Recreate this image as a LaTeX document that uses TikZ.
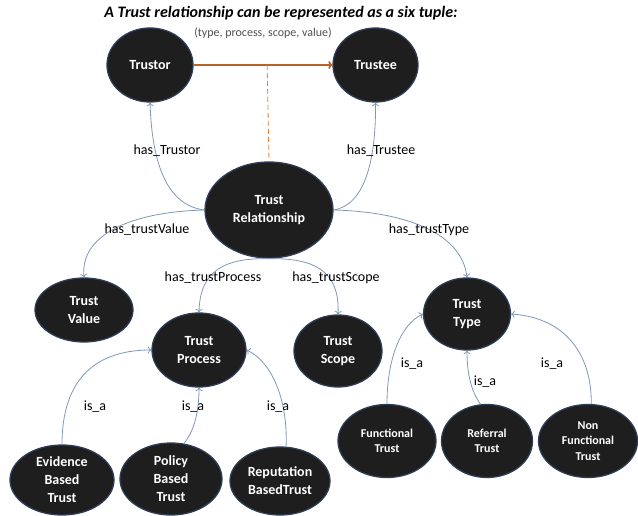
\documentclass[tikz,border=0pt]{standalone}
\usepackage{fontspec}
\setmainfont{Carlito}
\usetikzlibrary{shapes.geometric,arrows.meta,calc}
\definecolor{nodefill}{HTML}{1E1E1E}
\definecolor{nodeline}{HTML}{2E3C58}
\definecolor{edgecol}{HTML}{7F97B6}
\definecolor{brownarrow}{HTML}{B8632A}
\definecolor{dashcol}{HTML}{D9843A}
\definecolor{tuplecol}{HTML}{505050}
\begin{document}
\begin{tikzpicture}[x=1pt,y=-1pt,
 ent/.style={ellipse,fill=nodefill,draw=nodeline,line width=1.3pt,inner sep=0pt,text=white,
   font=\fontsize{14}{18}\selectfont\bfseries,align=center},
 smallent/.style={ent,font=\fontsize{12}{15.5}\selectfont\bfseries},
 rel/.style={draw=edgecol,line width=0.8pt,-{To[length=3.5pt,width=7pt]}},
 lab/.style={font=\fontsize{14}{16}\selectfont,inner sep=0pt}]
\useasboundingbox (0,0) rectangle (638,516);

\node[inner sep=0pt] (title) at (281,13) {\fontsize{16}{18}\selectfont\bfseries\itshape A Trust relationship can be represented as a six tuple:};
\node[inner sep=0pt,text=tuplecol,font=\fontsize{12}{14}\selectfont] (tuple) at (263,33) {(type, process, scope, value)};

\node[ent,minimum width=86pt,minimum height=74pt] (Trustor) at (150,65) {Trustor};
\node[ent,minimum width=85pt,minimum height=74pt] (Trustee) at (375.5,65) {Trustee};
\node[ent,minimum width=128pt,minimum height=96pt] (TR) at (269,210) {Trust\\Relationship};
\node[ent,minimum width=98pt,minimum height=64pt] (TV) at (84,310) {Trust\\Value};
\node[ent,minimum width=94pt,minimum height=74pt] (TP) at (199,350) {Trust\\Process};
\node[ent,minimum width=88pt,minimum height=72pt] (TS) at (338,351) {Trust\\Scope};
\node[ent,minimum width=87pt,minimum height=72pt] (TT) at (467,314) {Trust\\Type};
\node[ent,minimum width=104pt,minimum height=70pt] (EB) at (62,480) {Evidence\\Based\\Trust};
\node[ent,minimum width=102pt,minimum height=72pt] (PB) at (171,479) {Policy\\Based\\Trust};
\node[ent,minimum width=100pt,minimum height=68pt] (RB) at (280,481) {Reputation\\BasedTrust};
\node[smallent,minimum width=98pt,minimum height=73pt] (FT) at (387,441) {Functional\\Trust};
\node[smallent,minimum width=91pt,minimum height=73pt] (RT) at (487,441) {Referral\\Trust};
\node[smallent,minimum width=99pt,minimum height=73pt] (NF) at (588,441) {Non\\Functional\\Trust};

% six-tuple relation
\draw[draw=brownarrow,line width=1.8pt,-{To[length=4pt,width=8pt]}] (Trustor.east) -- (Trustee.west);
\coordinate (mid) at ($(Trustor.east)!0.53!(Trustee.west)$);
\draw[draw=dashcol,line width=0.8pt,dash pattern=on 5pt off 3pt] (mid) -- (TR.north);

% relations
\draw[rel] (TR.west) .. controls (165,205) and (152,160) .. (Trustor.south);
\draw[rel] (TR.east) .. controls (365,205) and (376,160) .. (Trustee.south);
\draw[rel] (TR.west) .. controls (130,212) and (80,235) .. (TV.north);
\draw[rel] (TR.east) .. controls (410,212) and (462,235) .. (TT.north);
\draw[rel] (TR.south) .. controls (225,258) and (200,270) .. (TP.north);
\draw[rel] (TR.south) .. controls (313,258) and (340,270) .. (TS.north);
\draw[rel] (EB.north) .. controls (62,385) and (90,350) .. (TP.west);
\draw[rel] (PB.70) .. controls (195,430) and (199,410) .. (TP.south);
\draw[rel] (RB.80) .. controls (288,400) and (272,362) .. (TP.east);
\draw[rel] (FT.north) .. controls (387,360) and (400,325) .. (TT.west);
\draw[rel] (RT.100) .. controls (470,390) and (467,370) .. (TT.south);
\draw[rel] (NF.85) .. controls (592,360) and (570,318) .. (TT.east);

% labels
\node[lab] (l1) at (167,151) {has\_Trustor};
\node[lab] (l2) at (381,151) {has\_Trustee};
\node[lab] (l3) at (147,230) {has\_trustValue};
\node[lab] (l4) at (429,230) {has\_trustType};
\node[lab] (l5) at (213,278) {has\_trustProcess};
\node[lab] (l6) at (336,278) {has\_trustScope};
\node[lab] (i1) at (95,407) {is\_a};
\node[lab] (i2) at (193,407) {is\_a};
\node[lab] (i3) at (278,407) {is\_a};
\node[lab] (i4) at (412,364) {is\_a};
\node[lab] (i5) at (485,382) {is\_a};
\node[lab] (i6) at (552,364) {is\_a};
\end{tikzpicture}
\end{document}
